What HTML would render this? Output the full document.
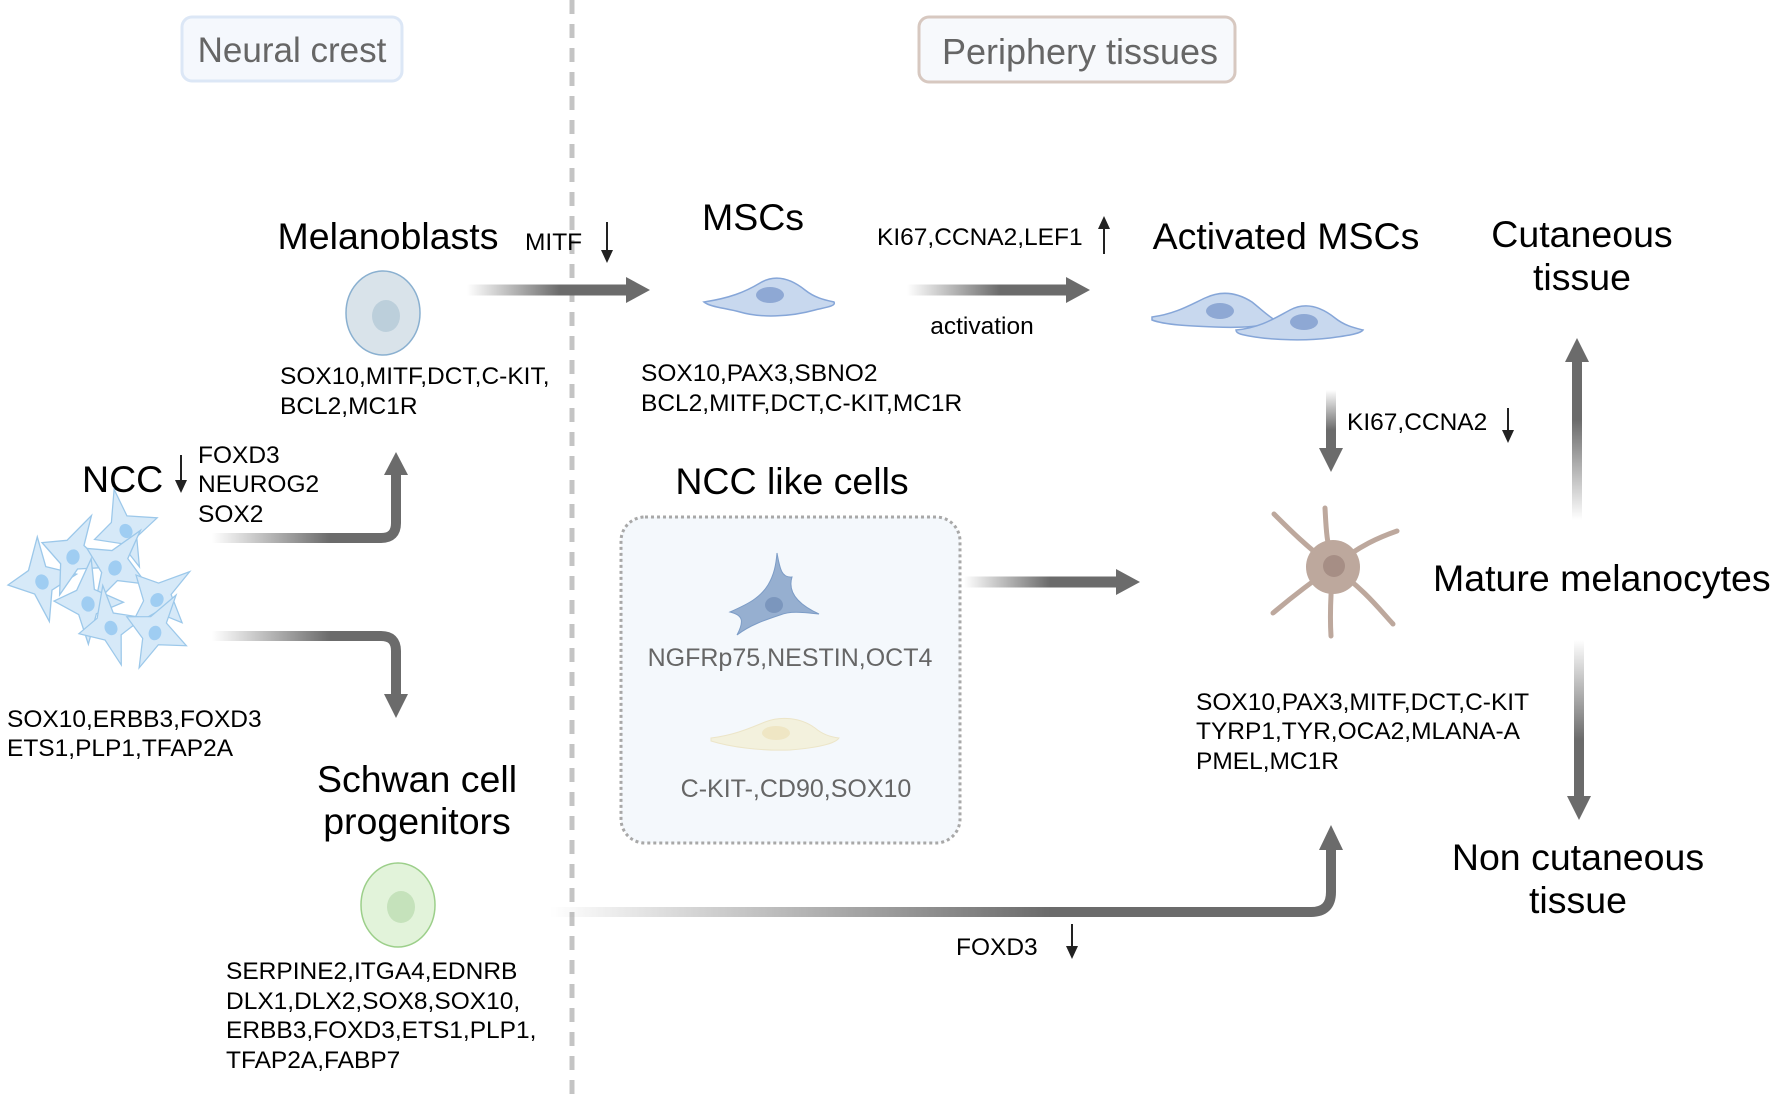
<!DOCTYPE html>
<html><head><meta charset="utf-8"><style>
html,body{margin:0;padding:0;background:#fff;}
svg{display:block;}
text{font-family:"Liberation Sans",sans-serif;}
.t{font-size:37.5px;}
.s{font-size:24.5px;}
</style></head><body>
<svg width="1772" height="1095" viewBox="0 0 1772 1095" xmlns="http://www.w3.org/2000/svg">
<defs>
<linearGradient id="g1" gradientUnits="userSpaceOnUse" x1="467" y1="0" x2="560" y2="0"><stop offset="0" stop-color="#6b6b6b" stop-opacity="0"/><stop offset="1" stop-color="#6b6b6b"/></linearGradient>
<linearGradient id="g2" gradientUnits="userSpaceOnUse" x1="907" y1="0" x2="1000" y2="0"><stop offset="0" stop-color="#6b6b6b" stop-opacity="0"/><stop offset="1" stop-color="#6b6b6b"/></linearGradient>
<linearGradient id="g3" gradientUnits="userSpaceOnUse" x1="964" y1="0" x2="1050" y2="0"><stop offset="0" stop-color="#6b6b6b" stop-opacity="0"/><stop offset="1" stop-color="#6b6b6b"/></linearGradient>
<linearGradient id="g4" gradientUnits="userSpaceOnUse" x1="212" y1="0" x2="330" y2="0"><stop offset="0" stop-color="#6b6b6b" stop-opacity="0"/><stop offset="1" stop-color="#6b6b6b"/></linearGradient>
<linearGradient id="g5" gradientUnits="userSpaceOnUse" x1="550" y1="0" x2="1050" y2="0"><stop offset="0" stop-color="#6b6b6b" stop-opacity="0"/><stop offset="1" stop-color="#6b6b6b"/></linearGradient>
<linearGradient id="g6" gradientUnits="userSpaceOnUse" x1="0" y1="520" x2="0" y2="420"><stop offset="0" stop-color="#6b6b6b" stop-opacity="0"/><stop offset="1" stop-color="#6b6b6b"/></linearGradient>
<linearGradient id="g7" gradientUnits="userSpaceOnUse" x1="0" y1="640" x2="0" y2="740"><stop offset="0" stop-color="#6b6b6b" stop-opacity="0"/><stop offset="1" stop-color="#6b6b6b"/></linearGradient>
<linearGradient id="g8" gradientUnits="userSpaceOnUse" x1="0" y1="390" x2="0" y2="430"><stop offset="0" stop-color="#6b6b6b" stop-opacity="0"/><stop offset="1" stop-color="#6b6b6b"/></linearGradient>
<g id="ncc">
<path d="M-30,-8 L-8,-14 L10,-40 L8,-12 L32,4 L6,10 L-6,36 L-10,8 Z" fill="#d6e9f8" stroke="#9cc8ea" stroke-width="1.2"/>
<ellipse cx="0" cy="0" rx="6" ry="7" fill="#9fcdf2"/>
</g>
</defs>

<line x1="572" y1="0" x2="572" y2="1095" stroke="#c4c4c4" stroke-width="5" stroke-dasharray="14,10"/>

<rect x="182" y="17" width="220" height="64" rx="10" fill="#f5f8fd" stroke="#dce7f6" stroke-width="3"/>
<text x="292" y="62" font-size="35" fill="#666" text-anchor="middle">Neural crest</text>
<rect x="919" y="17" width="316" height="65" rx="10" fill="#f7f9fc" stroke="#d7c8c0" stroke-width="3"/>
<text x="1080" y="64" font-size="36" fill="#666" text-anchor="middle">Periphery tissues</text>

<text x="388" y="249" class="t" text-anchor="middle">Melanoblasts</text>
<text x="525" y="250" class="s">MITF</text>
<line x1="607" y1="222" x2="607" y2="252" stroke="#222" stroke-width="2"/><polygon points="601,250 613,250 607,263" fill="#222"/>
<ellipse cx="383" cy="313" rx="37" ry="42" fill="#d9e3ea" stroke="#8ab0d0" stroke-width="1.5"/>
<ellipse cx="386" cy="316" rx="14" ry="16" fill="#bccfdb"/>
<text class="s" x="280" y="384">SOX10,MITF,DCT,C-KIT,</text>
<text class="s" x="280" y="414">BCL2,MC1R</text>

<line x1="467" y1="290" x2="628" y2="290" stroke="url(#g1)" stroke-width="11"/>
<polygon points="626,277 650,290 626,303" fill="#6b6b6b"/>

<text x="753" y="230" class="t" text-anchor="middle">MSCs</text>
<path d="M704,302 C730,298 745,292 760,283 C775,274 790,278 805,290 C815,298 825,300 834,302 C836,306 828,307 815,310 C790,317 760,318 740,312 C725,308 710,307 704,302 Z" fill="#c8d8ee" stroke="#86a6d8" stroke-width="1.5"/>
<ellipse cx="770" cy="295" rx="14" ry="8" fill="#8ea8d4"/>
<text class="s" x="641" y="381">SOX10,PAX3,SBNO2</text>
<text class="s" x="641" y="411">BCL2,MITF,DCT,C-KIT,MC1R</text>

<text x="877" y="245" class="s">KI67,CCNA2,LEF1</text>
<line x1="1104" y1="254" x2="1104" y2="227" stroke="#222" stroke-width="2"/><polygon points="1098,229 1110,229 1104,216" fill="#222"/>
<line x1="907" y1="290" x2="1068" y2="290" stroke="url(#g2)" stroke-width="11"/>
<polygon points="1066,277 1090,290 1066,303" fill="#6b6b6b"/>
<text x="982" y="334" class="s" text-anchor="middle">activation</text>

<text x="1286" y="249" class="t" text-anchor="middle">Activated MSCs</text>
<path d="M1152,317 C1175,314 1190,305 1205,298 C1222,290 1238,293 1252,302 C1262,310 1268,316 1275,320 C1268,327 1240,328 1215,327 C1190,326 1165,325 1152,320 Z" fill="#c8d8ee" stroke="#86a6d8" stroke-width="1.5"/>
<ellipse cx="1220" cy="311" rx="14" ry="8" fill="#8ea8d4"/>
<path d="M1236,330 C1260,328 1275,318 1290,310 C1305,302 1320,306 1335,318 C1345,326 1355,328 1363,330 C1360,334 1345,336 1330,338 C1305,341 1275,340 1255,337 C1243,335 1236,334 1236,330 Z" fill="#c8d8ee" stroke="#86a6d8" stroke-width="1.5"/>
<ellipse cx="1304" cy="322" rx="14" ry="8" fill="#8ea8d4"/>

<text x="1582" y="247" class="t" text-anchor="middle">Cutaneous</text>
<text x="1582" y="290" class="t" text-anchor="middle">tissue</text>
<line x1="1577" y1="520" x2="1577" y2="358" stroke="url(#g6)" stroke-width="10"/>
<polygon points="1565,362 1589,362 1577,338" fill="#6b6b6b"/>

<line x1="1331" y1="390" x2="1331" y2="450" stroke="url(#g8)" stroke-width="10"/>
<polygon points="1319,448 1343,448 1331,472" fill="#6b6b6b"/>
<text x="1347" y="430" class="s">KI67,CCNA2</text>
<line x1="1508" y1="408" x2="1508" y2="432" stroke="#222" stroke-width="2"/><polygon points="1502,430 1514,430 1508,443" fill="#222"/>

<text x="792" y="494" class="t" text-anchor="middle">NCC like cells</text>
<rect x="621" y="517" width="339" height="326" rx="24" fill="#f4f8fc" stroke="#a8a8a8" stroke-width="3" stroke-dasharray="3,3"/>
<path d="M777,553 C780,570 782,578 792,577 C788,590 795,603 819,614 C800,612 790,611 780,615 C765,620 750,625 737,635 C745,620 742,615 730,612 C748,604 760,598 768,585 C774,575 776,565 777,553 Z" fill="#96afd0" stroke="#7c9cc6" stroke-width="1"/>
<ellipse cx="774" cy="605" rx="9" ry="8" fill="#7b96bd"/>
<text x="790" y="666" font-size="25" fill="#666" text-anchor="middle">NGFRp75,NESTIN,OCT4</text>
<path d="M711,738 C735,735 750,728 765,722 C780,716 800,717 815,728 C822,734 830,737 839,738 C835,744 815,748 790,750 C760,751 730,747 711,741 Z" fill="#f3f1dd" stroke="#ece5c8" stroke-width="1"/>
<ellipse cx="776" cy="733" rx="14" ry="7" fill="#efe6c4"/>
<text x="796" y="797" font-size="25" fill="#666" text-anchor="middle">C-KIT-,CD90,SOX10</text>

<line x1="964" y1="582" x2="1118" y2="582" stroke="url(#g3)" stroke-width="11"/>
<polygon points="1116,569 1140,582 1116,595" fill="#6b6b6b"/>

<g stroke="#bda89d" stroke-width="5" stroke-linecap="round" fill="none">
<path d="M1333,567 C1305,545 1290,530 1274,514"/>
<path d="M1333,567 C1326,540 1326,525 1325,508"/>
<path d="M1333,567 C1360,545 1380,537 1397,531"/>
<path d="M1333,567 C1300,590 1285,603 1273,613"/>
<path d="M1333,567 C1330,600 1330,620 1331,636"/>
<path d="M1333,567 C1365,590 1380,610 1393,624"/>
</g>
<circle cx="1333" cy="567" r="27" fill="#bda89d"/>
<circle cx="1334" cy="566" r="11" fill="#a68e85"/>
<text x="1433" y="591" class="t">Mature melanocytes</text>

<line x1="1579" y1="640" x2="1579" y2="800" stroke="url(#g7)" stroke-width="10"/>
<polygon points="1567,796 1591,796 1579,820" fill="#6b6b6b"/>
<text x="1578" y="870" class="t" text-anchor="middle">Non cutaneous</text>
<text x="1578" y="913" class="t" text-anchor="middle">tissue</text>

<text class="s" x="1196" y="710">SOX10,PAX3,MITF,DCT,C-KIT</text>
<text class="s" x="1196" y="739">TYRP1,TYR,OCA2,MLANA-A</text>
<text class="s" x="1196" y="769">PMEL,MC1R</text>

<path d="M550,912 L1311,912 Q1331,912 1331,892 L1331,848" fill="none" stroke="url(#g5)" stroke-width="10"/>
<polygon points="1319,850 1343,850 1331,825" fill="#6b6b6b"/>
<text x="956" y="955" class="s">FOXD3</text>
<line x1="1072" y1="924" x2="1072" y2="948" stroke="#222" stroke-width="2"/><polygon points="1066,946 1078,946 1072,959" fill="#222"/>

<text x="82" y="492" class="t">NCC</text>
<line x1="181" y1="455" x2="181" y2="482" stroke="#222" stroke-width="2"/><polygon points="175,480 187,480 181,493" fill="#222"/>
<text class="s" x="198" y="463">FOXD3</text>
<text class="s" x="198" y="492">NEUROG2</text>
<text class="s" x="198" y="522">SOX2</text>

<use href="#ncc" transform="translate(42,582) rotate(-20) scale(1.1)"/>
<use href="#ncc" transform="translate(73,557) rotate(10) scale(1.1)"/>
<use href="#ncc" transform="translate(126,531) rotate(-30) scale(1.05)"/>
<use href="#ncc" transform="translate(115,568) rotate(20) scale(1.1)"/>
<use href="#ncc" transform="translate(88,604) rotate(-10) scale(1.1)"/>
<use href="#ncc" transform="translate(157,600) rotate(35) scale(1.05)"/>
<use href="#ncc" transform="translate(111,628) rotate(-25) scale(1.05)"/>
<use href="#ncc" transform="translate(155,633) rotate(15) scale(1.05)"/>

<path d="M212,538 L381,538 Q396,538 396,523 L396,472" fill="none" stroke="url(#g4)" stroke-width="10"/>
<polygon points="384,475 408,475 396,452" fill="#6b6b6b"/>
<path d="M212,636 L381,636 Q396,636 396,651 L396,697" fill="none" stroke="url(#g4)" stroke-width="10"/>
<polygon points="384,694 408,694 396,718" fill="#6b6b6b"/>

<text class="s" x="7" y="727">SOX10,ERBB3,FOXD3</text>
<text class="s" x="7" y="756">ETS1,PLP1,TFAP2A</text>

<text x="417" y="792" class="t" text-anchor="middle">Schwan cell</text>
<text x="417" y="834" class="t" text-anchor="middle">progenitors</text>
<ellipse cx="398" cy="905" rx="37" ry="42" fill="#e2f3da" stroke="#9ccf8a" stroke-width="1.5"/>
<ellipse cx="401" cy="907" rx="14" ry="16" fill="#c5e2bb"/>
<text class="s" x="226" y="979">SERPINE2,ITGA4,EDNRB</text>
<text class="s" x="226" y="1009">DLX1,DLX2,SOX8,SOX10,</text>
<text class="s" x="226" y="1038">ERBB3,FOXD3,ETS1,PLP1,</text>
<text class="s" x="226" y="1068">TFAP2A,FABP7</text>
</svg>
</body></html>
